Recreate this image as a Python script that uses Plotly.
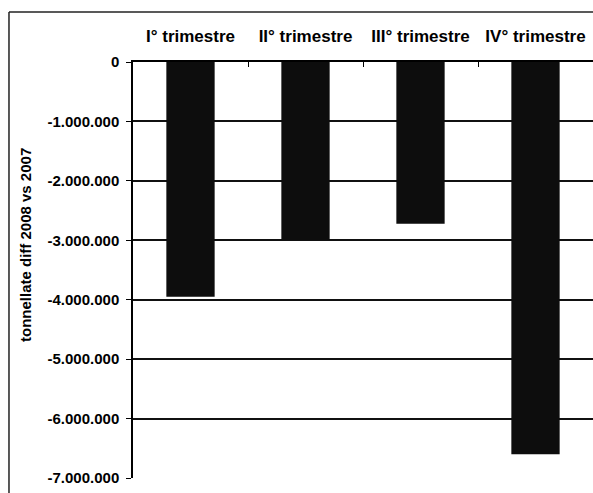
import plotly.graph_objects as go

categories = ["I° trimestre", "II° trimestre", "III° trimestre", "IV° trimestre"]
values = [-3950000, -2990000, -2720000, -6600000]
y_tick_vals = [0, -1000000, -2000000, -3000000, -4000000, -5000000, -6000000, -7000000]
y_tick_text = ["0", "-1.000.000", "-2.000.000", "-3.000.000", "-4.000.000",
               "-5.000.000", "-6.000.000", "-7.000.000"]
y_title = "tonnellate diff 2008 vs 2007"

FONT = "Liberation Sans, Arial, sans-serif"

fig = go.Figure()
fig.add_trace(go.Bar(
    x=categories, y=values,
    marker=dict(color="#0d0d0d", line=dict(width=0)),
    width=0.42,
))

fig.update_layout(
    width=593, height=493,
    margin=dict(l=133, r=0, t=62, b=15),
    paper_bgcolor="white", plot_bgcolor="white",
    showlegend=False,
    font=dict(family=FONT, color="black"),
    shapes=[
        dict(type="line", xref="paper", yref="paper", x0=-0.2696, x1=1.05, y0=1.12, y1=1.12,
             line=dict(color="#222", width=1.5)),
        dict(type="line", xref="paper", yref="paper", x0=-0.2696, x1=-0.2696, y0=1.12, y1=-0.2,
             line=dict(color="#222", width=1.5)),
    ],
    annotations=[
        dict(text=y_title, xref="paper", yref="paper", x=-0.2348, y=0.56,
             xanchor="center", yanchor="middle", textangle=-90, showarrow=False,
             font=dict(family=FONT, size=15, weight="bold", color="black")),
    ],
)

fig.update_xaxes(
    side="top", type="category", range=[-0.5, 3.5],
    showline=True, linecolor="black", linewidth=1.5,
    ticks="inside", ticklen=5, tickcolor="black", tickson="boundaries",
    tickfont=dict(family=FONT, size=17, weight="bold", color="black"),
    ticklabelstandoff=11,
    showgrid=False, zeroline=False, fixedrange=True,
)

fig.update_yaxes(
    range=[-7000000, 0],
    tickvals=y_tick_vals, ticktext=y_tick_text,
    showline=True, linecolor="black", linewidth=1.5,
    ticks="outside", ticklen=5, tickcolor="black",
    tickfont=dict(family=FONT, size=15, weight="bold", color="black"),
    ticklabelstandoff=4,
    showgrid=True, gridcolor="#111", gridwidth=1.5,
    zeroline=False, fixedrange=True,
)

fig.write_html("out.html", config={"displayModeBar": False},
               post_script="document.body.style.margin='0';")
